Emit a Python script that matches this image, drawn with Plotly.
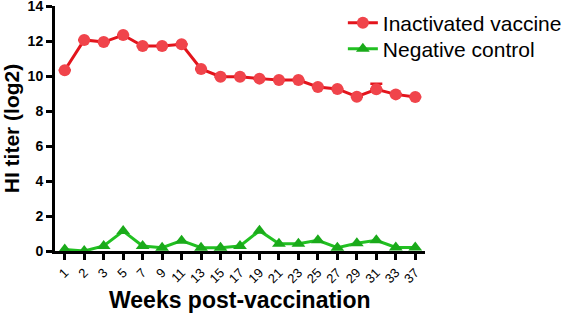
import plotly.graph_objects as go

weeks = ["1", "2", "3", "5", "7", "9", "11", "13", "15", "17", "19", "21", "23", "25", "27", "29", "31", "33", "37"]
vaccine = [10.33, 12.06, 11.94, 12.34, 11.71, 11.71, 11.81, 10.4, 9.96, 9.96, 9.85, 9.77, 9.77, 9.37, 9.26, 8.82, 9.24, 8.95, 8.8]
vaccine_err = [0, 0, 0, 0, 0, 0, 0, 0, 0, 0, 0, 0, 0, 0, 0, 0, 0.32, 0, 0]
control = [0.08, 0.0, 0.29, 1.14, 0.29, 0.19, 0.59, 0.19, 0.19, 0.29, 1.16, 0.42, 0.42, 0.61, 0.19, 0.44, 0.61, 0.2, 0.2]
y_ticks = [0, 2, 4, 6, 8, 10, 12, 14]

FONT = "Liberation Sans, Arial, sans-serif"

fig = go.Figure()
fig.add_trace(go.Scatter(
    x=weeks, y=vaccine, name="Inactivated vaccine", mode="lines+markers",
    line=dict(color="#e3141c", width=3),
    marker=dict(symbol="circle", size=12, color="#f0444b"),
    error_y=dict(type="data", array=vaccine_err, arrayminus=[0] * len(vaccine_err),
                 visible=True, color="#e3141c", thickness=2.5, width=6),
    cliponaxis=False, legend="legend",
))
fig.add_trace(go.Scatter(
    x=weeks, y=control, name="Negative control", mode="lines+markers",
    line=dict(color="#22c022", width=3),
    marker=dict(symbol="triangle-up", size=12, color="#1aaa1a"),
    cliponaxis=False, legend="legend2",
))

leg_common = dict(xanchor="left", yanchor="middle", xref="paper", yref="paper",
                  font=dict(size=21, family=FONT, color="black"), bgcolor="rgba(0,0,0,0)",
                  itemwidth=30)

fig.update_layout(
    width=563, height=313,
    margin=dict(l=55, r=138, t=6, b=62, autoexpand=False),
    paper_bgcolor="white", plot_bgcolor="white",
    font=dict(family=FONT, color="black"),
    showlegend=True,
    legend=dict(x=0.778, y=(251 - 23) / 245, **leg_common),
    legend2=dict(x=0.778, y=(251 - 49) / 245, **leg_common),
)

fig.update_xaxes(
    type="category", range=[-0.5, 18.5], automargin=False,
    showline=True, linecolor="black", linewidth=3,
    ticks="outside", ticklen=6, tickwidth=2.5, tickcolor="black",
    tickangle=-45, tickfont=dict(size=13, family=FONT, color="black"),
    showgrid=False, zeroline=False,
)
fig.update_yaxes(
    range=[0, 14], tickvals=y_ticks, ticktext=[f"<b>{v}</b>" for v in y_ticks],
    automargin=False, ticklabeloverflow="allow",
    showline=True, linecolor="black", linewidth=3,
    ticks="outside", ticklen=6, tickwidth=2.5, tickcolor="black",
    tickfont=dict(size=14, family=FONT, color="black"),
    showgrid=False, zeroline=False,
    title=dict(text="<b>HI titer (log2)</b>", font=dict(size=21, family=FONT, color="black"), standoff=20),
)

fig.add_annotation(
    text="<b>Weeks post-vaccination</b>", xref="paper", yref="paper",
    x=0.5, y=-(300 - 251) / 245, xanchor="center", yanchor="middle",
    showarrow=False, font=dict(size=23, family=FONT, color="black"),
)

fig.write_html("out.html", config={"displayModeBar": False},
               post_script="document.body.style.margin='0px';")
